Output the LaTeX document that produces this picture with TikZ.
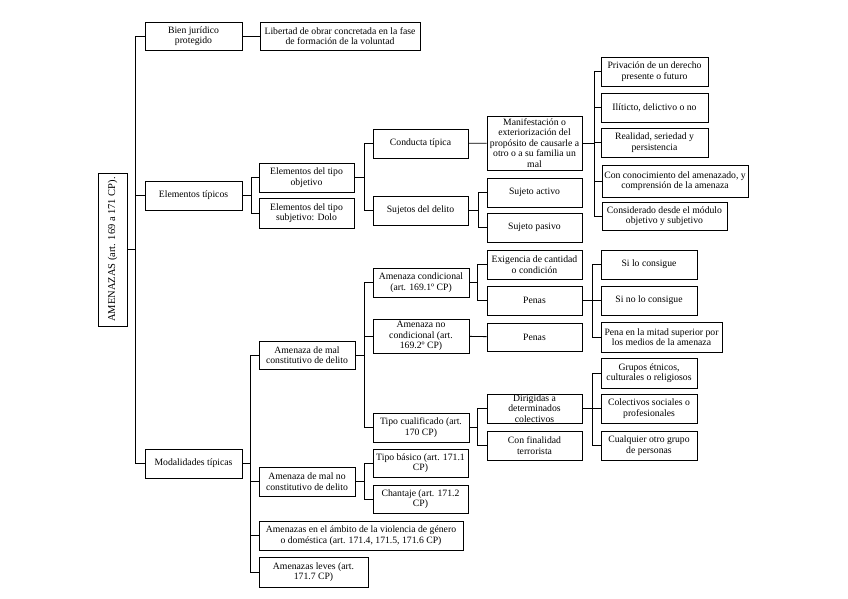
\documentclass[tikz,border=0pt]{standalone}
\usepackage{fontspec}
\setmainfont{Liberation Serif}
\usepackage{tikz}
\usetikzlibrary{positioning}

\begin{document}
\begin{tikzpicture}[x=1pt,y=-1pt,
    caja/.style={draw,line width=0.9pt,align=center,inner xsep=0.5pt,inner ysep=1pt,
        font=\fontsize{9.7}{10.6}\selectfont},
    rama/.style={line width=0.9pt}]
    \useasboundingbox (0,0) rectangle (848,599);
    % raiz
    \node[caja,rotate=90,minimum width=153pt,minimum height=29pt,
        font=\fontsize{10.5}{12}\selectfont] (raiz) at (112.5,249.5) {AMENAZAS (art. 169 a 171 CP).};
    % primer nivel
    \node[caja,minimum width=97pt,minimum height=28pt] (bien) at (193.5,36) {Bien jurídico\\protegido};
    \node[caja,minimum width=160pt,minimum height=28pt] (libertad) at (340,36) {Libertad de obrar concretada en la fase\\de formación de la voluntad};
    \node[caja,minimum width=97pt,minimum height=29pt] (eltipicos) at (193.5,195.5) {Elementos típicos};
    \node[caja,minimum width=97pt,minimum height=29pt] (modalidades) at (193.5,463.5) {Modalidades típicas};
    % elementos tipicos
    \node[caja,minimum width=95pt,minimum height=29pt] (objetivo) at (306.5,177.5) {Elementos del tipo\\objetivo};
    \node[caja,minimum width=95pt,minimum height=30pt] (subjetivo) at (306.5,213) {Elementos del tipo\\subjetivo: Dolo};
    \node[caja,minimum width=95pt,minimum height=29pt] (conducta) at (420.5,143.5) {Conducta típica};
    \node[caja,minimum width=95pt,minimum height=29pt] (sujetos) at (420.5,210.5) {Sujetos del delito};
    \node[caja,minimum width=95pt,minimum height=54pt,inner sep=0pt] (manifestacion) at (534.5,143) {Manifestación o\\exteriorización del\\propósito de causarle a\\otro o a su familia un\\mal};
    \node[caja,minimum width=95pt,minimum height=29pt] (activo) at (534.5,192.5) {Sujeto activo};
    \node[caja,minimum width=95pt,minimum height=29pt] (pasivo) at (534.5,227.5) {Sujeto pasivo};
    \node[caja,minimum width=107pt,minimum height=29pt] (privacion) at (654.5,71.5) {Privación de un derecho\\presente o futuro};
    \node[caja,minimum width=107pt,minimum height=29pt] (ilicito) at (654.5,107.5) {Ilíticto, delictivo o no};
    \node[caja,minimum width=107pt,minimum height=29pt] (realidad) at (654.5,142.5) {Realidad, seriedad y\\persistencia};
    \node[caja,minimum width=146pt,minimum height=32pt] (conocimiento) at (675,181) {Con conocimiento del amenazado, y\\comprensión de la amenaza};
    \node[caja,minimum width=125pt,minimum height=28pt] (modulo) at (664.5,216) {Considerado desde el módulo\\objetivo y subjetivo};
    % modalidades tipicas
    \node[caja,minimum width=96pt,minimum height=28pt] (constitutivo) at (307,355) {Amenaza de mal\\constitutivo de delito};
    \node[caja,minimum width=96pt,minimum height=29pt] (noconstitutivo) at (307,481.5) {Amenaza de mal no\\constitutivo de delito};
    \node[caja,minimum width=204pt,minimum height=29pt] (ambito) at (361,535.5) {Amenazas en el ámbito de la violencia de género\\o doméstica (art. 171.4, 171.5, 171.6 CP)};
    \node[caja,minimum width=109pt,minimum height=30pt] (leves) at (313.5,572) {Amenazas leves (art.\\171.7 CP)};
    \node[caja,minimum width=96pt,minimum height=29pt] (condicional) at (421,282.5) {Amenaza condicional\\(art. 169.1º CP)};
    \node[caja,minimum width=96pt,minimum height=34pt,inner sep=0pt] (nocondicional) at (421,336) {Amenaza no\\condicional (art.\\169.2º CP)};
    \node[caja,minimum width=96pt,minimum height=29pt] (cualificado) at (421,427.5) {Tipo cualificado (art.\\170 CP)};
    \node[caja,minimum width=95pt,minimum height=28pt] (basico) at (420.5,463) {Tipo básico (art. 171.1\\CP)};
    \node[caja,minimum width=95pt,minimum height=28pt] (chantaje) at (420.5,499) {Chantaje (art. 171.2\\CP)};
    \node[caja,minimum width=95pt,minimum height=29pt] (exigencia) at (534.5,264.5) {Exigencia de cantidad\\o condición};
    \node[caja,minimum width=95pt,minimum height=29pt] (penasA) at (534.5,300.5) {Penas};
    \node[caja,minimum width=95pt,minimum height=28pt] (penasB) at (534.5,337) {Penas};
    \node[caja,minimum width=96pt,minimum height=29pt] (silo) at (649,264.5) {Si lo consigue};
    \node[caja,minimum width=96pt,minimum height=29pt] (sino) at (649,300.5) {Si no lo consigue};
    \node[caja,minimum width=121pt,minimum height=30pt] (mitad) at (661.5,337) {Pena en la mitad superior por\\los medios de la amenaza};
    \node[caja,minimum width=95pt,minimum height=29pt,inner sep=0pt] (dirigidas) at (534.5,408.5) {Dirigidas a\\determinados\\colectivos};
    \node[caja,minimum width=95pt,minimum height=29pt] (finalidad) at (534.5,445.5) {Con finalidad\\terrorista};
    \node[caja,minimum width=96pt,minimum height=30pt] (grupos) at (649,373) {Grupos étnicos,\\culturales o religiosos};
    \node[caja,minimum width=96pt,minimum height=29pt] (colectivos) at (649,408.5) {Colectivos sociales o\\profesionales};
    \node[caja,minimum width=96pt,minimum height=29pt] (cualquier) at (649,445.5) {Cualquier otro grupo\\de personas};
    % ramas
    \foreach \c in {bien,eltipicos,modalidades}
        \draw[rama] (raiz.south) -- ++(8,0) |- (\c.west);
    \draw[rama] (bien) -- (libertad);
    \foreach \c in {objetivo,subjetivo}
        \draw[rama] (eltipicos.east) -- ++(9,0) |- (\c.west);
    \foreach \c in {conducta,sujetos}
        \draw[rama] (objetivo.east) -- ++(10,0) |- (\c.west);
    \draw[rama] (conducta) -- (manifestacion);
    \foreach \c in {activo,pasivo}
        \draw[rama] (sujetos.east) -- ++(9.5,0) |- (\c.west);
    \foreach \c in {privacion,ilicito,realidad,conocimiento,modulo}
        \draw[rama] (manifestacion.east) -- ++(12,0) |- (\c.west);
    \foreach \c in {constitutivo,noconstitutivo,ambito,leves}
        \draw[rama] (modalidades.east) -- ++(8,0) |- (\c.west);
    \foreach \c in {condicional,nocondicional,cualificado}
        \draw[rama] (constitutivo.east) -- ++(9,0) |- (\c.west);
    \foreach \c in {basico,chantaje}
        \draw[rama] (noconstitutivo.east) -- ++(9,0) |- (\c.west);
    \foreach \c in {exigencia,penasA}
        \draw[rama] (condicional.east) -- ++(8,0) |- (\c.west);
    \draw[rama] (nocondicional) -- (penasB);
    \foreach \c in {silo,sino,mitad}
        \draw[rama] (penasA.east) -- ++(10,0) |- (\c.west);
    \foreach \c in {dirigidas,finalidad}
        \draw[rama] (cualificado.east) -- ++(8,0) |- (\c.west);
    \foreach \c in {grupos,colectivos,cualquier}
        \draw[rama] (dirigidas.east) -- ++(10,0) |- (\c.west);
\end{tikzpicture}
\end{document}
